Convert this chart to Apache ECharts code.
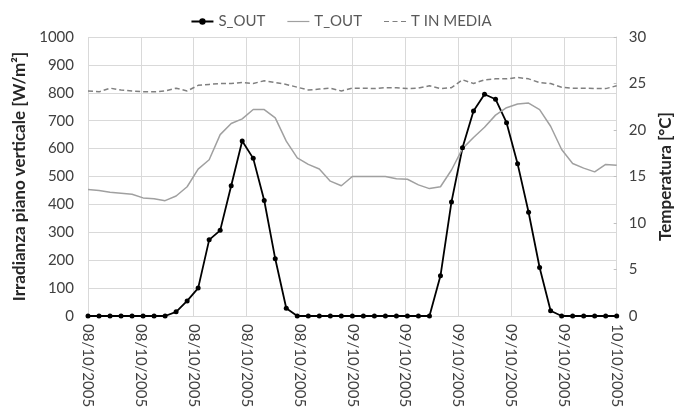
<!DOCTYPE html>
<html>
<head>
<meta charset="utf-8">
<script src="https://cdn.jsdelivr.net/npm/echarts@6/dist/echarts.min.js"></script>
<style>
  html, body { margin: 0; padding: 0; background: #fff; }
  #chart { width: 682px; height: 417px; }
</style>
</head>
<body>
<div id="chart"></div>
<script>
  'use strict';

  /* ore dal 08/10/2005 00:00 */
  var hours = [];
  for (var h = 0; h <= 48; h++) hours.push(h);

  var tickLabels = [
    '08/10/2005', '08/10/2005', '08/10/2005', '08/10/2005', '08/10/2005',
    '09/10/2005', '09/10/2005', '09/10/2005', '09/10/2005', '09/10/2005',
    '10/10/2005'
  ];

  /* irradianza [W/m2] */
  var sOut = [
    0, 0, 0, 0, 0, 0, 0, 0, 15, 54, 100, 273, 307, 467, 627, 565, 414, 205, 28, 0,
    0, 0, 0, 0, 0, 0, 0, 0, 0, 0, 0, 0, 144, 409, 603, 735, 795, 777, 693, 546,
    372, 174, 19, 0, 0, 0, 0, 0, 0
  ];

  /* temperatura esterna [°C] */
  var tOut = [
    13.6, 13.5, 13.3, 13.2, 13.1, 12.7, 12.6, 12.4, 12.9, 13.9, 15.8, 16.8, 19.5, 20.7, 21.2, 22.2,
    22.2, 21.3, 18.8, 17.0, 16.3, 15.8, 14.5, 14.0, 15.0, 15.0, 15.0, 15.0, 14.75, 14.7, 14.1, 13.7,
    13.9, 15.7, 18.0, 19.2, 20.3, 21.6, 22.4, 22.8, 22.9, 22.2, 20.4, 17.9, 16.4, 15.9, 15.5, 16.3,
    16.2
  ];

  /* temperatura interna media [°C] */
  var tInMedia = [
    24.2, 24.1, 24.5, 24.3, 24.2, 24.1, 24.1, 24.2, 24.5, 24.2, 24.8, 24.9, 25.0, 25.0, 25.1, 25.0,
    25.3, 25.1, 24.9, 24.6, 24.3, 24.4, 24.5, 24.2, 24.5, 24.5, 24.45, 24.55, 24.55, 24.45, 24.5, 24.75,
    24.45, 24.55, 25.4, 25.0, 25.4, 25.5, 25.5, 25.65, 25.5, 25.1, 25.0, 24.6, 24.5, 24.5, 24.45, 24.45,
    24.75
  ];

  function pairs(values) {
    return hours.map(function (h, i) { return [h, values[i]]; });
  }

  var FONT = 'Lato';
  var chart = echarts.init(document.getElementById('chart'));

  var option = {
    animation: false,
    textStyle: { fontFamily: FONT },
    legend: {
      top: 9,
      left: 'center',
      itemGap: 22,
      itemWidth: 22,
      itemHeight: 8,
      textStyle: { fontFamily: FONT, fontSize: 15, color: '#595959' },
      data: [
        { name: 'S_OUT' },
        { name: 'T_OUT', icon: 'path://M0,0L22,0L22,1.2L0,1.2Z' },
        { name: 'T IN MEDIA', icon: 'path://M0,0L5,0L5,1.2L0,1.2ZM8.5,0L13.5,0L13.5,1.2L8.5,1.2ZM17,0L22,0L22,1.2L17,1.2Z' }
      ]
    },
    grid: { left: 88, right: 59, top: 37, bottom: 101 },
    xAxis: {
      type: 'value',
      min: 0,
      max: 48,
      interval: 4.8,
      axisLine: { lineStyle: { color: '#d9d9d9' } },
      axisTick: { show: false },
      splitLine: { lineStyle: { color: '#d9d9d9' } },
      axisLabel: {
        rotate: -90,
        margin: 8,
        fontFamily: FONT,
        fontSize: 15,
        color: '#404040',
        formatter: function (v) { return tickLabels[Math.round(v / 4.8)]; }
      }
    },
    yAxis: [
      {
        type: 'value',
        min: 0,
        max: 1000,
        interval: 100,
        name: 'Irradianza piano verticale [W/m²]',
        nameLocation: 'middle',
        nameGap: 60,
        nameTextStyle: { fontFamily: FONT, fontSize: 17, fontWeight: 'bold', color: '#262626' },
        axisLine: { show: false },
        axisTick: { show: false },
        splitLine: { lineStyle: { color: '#d9d9d9' } },
        axisLabel: {
          fontFamily: FONT, fontSize: 15, color: '#404040', margin: 14,
          formatter: function (v) { return String(v); }
        }
      },
      {
        type: 'value',
        min: 0,
        max: 30,
        interval: 5,
        name: 'Temperatura [°C]',
        nameLocation: 'middle',
        nameRotate: 90,
        nameGap: 38,
        nameTextStyle: { fontFamily: FONT, fontSize: 17, fontWeight: 'bold', color: '#262626', padding: [0, 0, 16, 0] },
        axisLine: { show: true, lineStyle: { color: '#d9d9d9' } },
        axisTick: { show: true, inside: true, length: 3, lineStyle: { color: '#bfbfbf' } },
        splitLine: { show: false },
        axisLabel: { fontFamily: FONT, fontSize: 15, color: '#404040', margin: 12 }
      }
    ],
    series: [
      {
        name: 'S_OUT',
        type: 'line',
        yAxisIndex: 0,
        data: pairs(sOut),
        symbol: 'circle',
        symbolSize: 5,
        itemStyle: { color: '#000' },
        lineStyle: { color: '#000', width: 1.8 }
      },
      {
        name: 'T_OUT',
        type: 'line',
        yAxisIndex: 1,
        data: pairs(tOut),
        symbol: 'none',
        itemStyle: { color: '#a0a0a0' },
        lineStyle: { color: '#a0a0a0', width: 1.5 }
      },
      {
        name: 'T IN MEDIA',
        type: 'line',
        yAxisIndex: 1,
        data: pairs(tInMedia),
        symbol: 'none',
        itemStyle: { color: '#808080' },
        lineStyle: { color: '#808080', width: 1.5, type: [5, 3] }
      }
    ]
  };

  chart.setOption(option);
</script>
</body>
</html>
